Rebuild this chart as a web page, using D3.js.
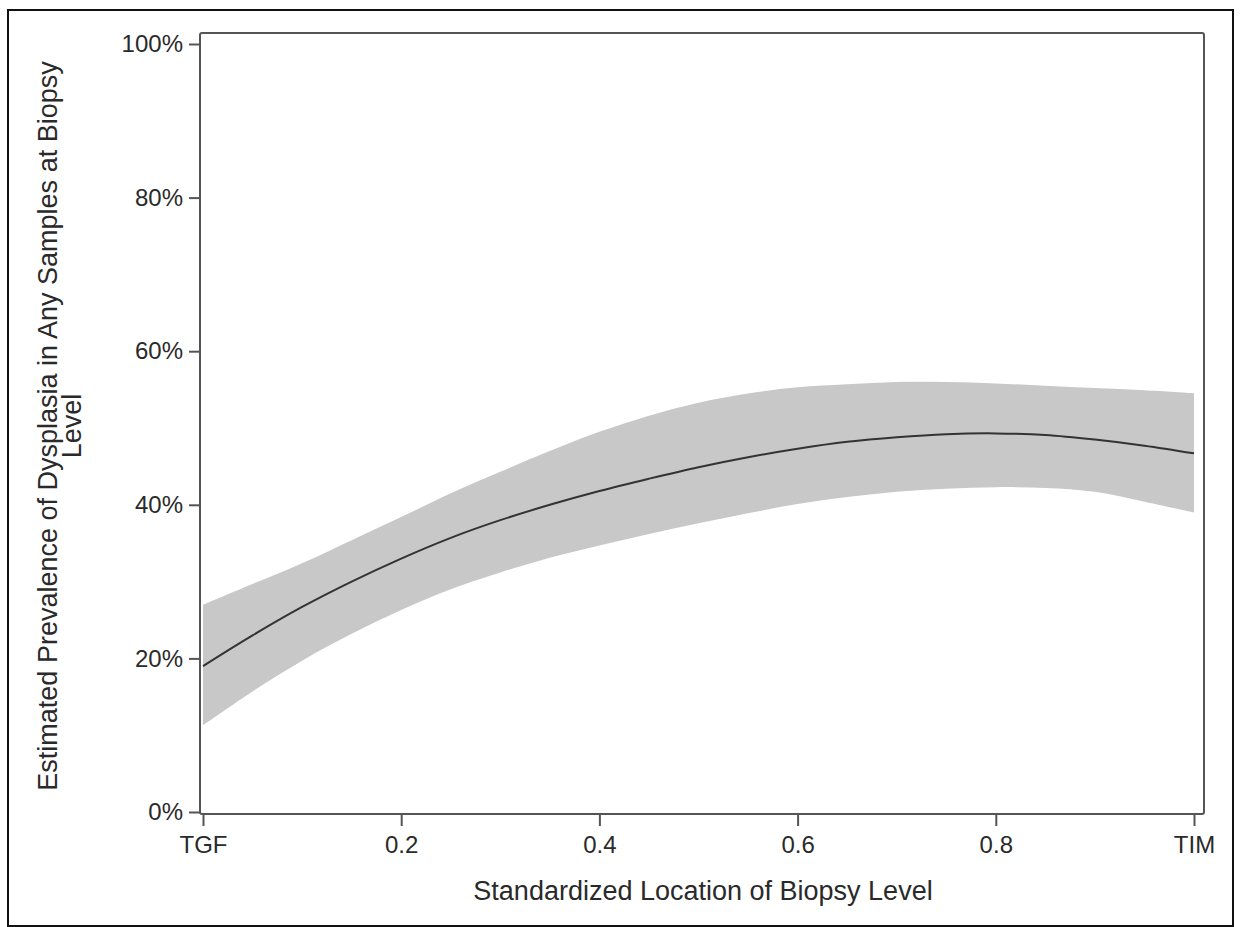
<!DOCTYPE html>
<html>
<head>
<meta charset="utf-8">
<script src="https://cdn.jsdelivr.net/npm/d3@7"></script>
<style>
  body{margin:0;background:#fff;}
  svg{display:block;font-family:"Liberation Sans",Arial,sans-serif;}
  .tick_lbl{font-size:24px;fill:#2a2a2a;}
  .axis_title{font-size:27px;fill:#2a2a2a;}
</style>
</head>
<body>
<svg></svg>
<script>
// standardized location (TGF = 0, TIM = 1)
let loc = [0,0.05,0.1,0.15,0.2,0.25,0.3,0.35,0.4,0.45,0.5,0.55,0.6,0.65,0.7,0.75,0.8,0.85,0.9,0.95,1];
// estimated prevalence (%)
let est   = [19.0,23.0,26.7,30.0,33.0,35.7,38.0,40.0,41.8,43.4,44.9,46.2,47.3,48.2,48.8,49.2,49.3,49.1,48.5,47.7,46.7];
// confidence band (%)
let upper = [27.0,29.7,32.4,35.4,38.4,41.5,44.3,47.0,49.5,51.6,53.3,54.5,55.3,55.7,56.0,56.0,55.8,55.5,55.2,54.9,54.5];
let lower = [11.3,15.7,19.7,23.2,26.3,29.0,31.2,33.1,34.7,36.2,37.6,38.9,40.1,41.0,41.7,42.1,42.3,42.2,41.7,40.4,39.0];
// ticks
let x_ticks = [0,0.2,0.4,0.6,0.8,1];
let x_tick_lbl = ['TGF','0.2','0.4','0.6','0.8','TIM'];
let y_ticks = [0,20,40,60,80,100];

let W = 1240, H = 927;
let svg = d3.select("svg").attr("width",W).attr("height",H);

let x_scale = d3.scaleLinear().domain([0,1]).range([203,1194]);
let y_scale = d3.scaleLinear().domain([0,100]).range([812,44]);

let rows = loc.map((d,i)=>({x:d, y:est[i], hi:upper[i], lo:lower[i]}));

// outer frame
svg.append("rect").attr("x",8).attr("y",10).attr("width",1225).attr("height",916)
  .attr("fill","none").attr("stroke","#111").attr("stroke-width",2);

// band
let band = d3.area().curve(d3.curveCatmullRom)
  .x(d=>x_scale(d.x)).y0(d=>y_scale(d.lo)).y1(d=>y_scale(d.hi));
svg.append("path").datum(rows).attr("d",band).attr("fill","#c8c8c8");

// estimate line
let line = d3.line().curve(d3.curveCatmullRom)
  .x(d=>x_scale(d.x)).y(d=>y_scale(d.y));
svg.append("path").datum(rows).attr("d",line)
  .attr("fill","none").attr("stroke","#333").attr("stroke-width",2);

// plot frame
svg.append("rect").attr("x",200).attr("y",33).attr("width",1004).attr("height",781)
  .attr("rx",2).attr("fill","none").attr("stroke","#555").attr("stroke-width",2);

// y axis
let y_axis = d3.axisLeft(y_scale).tickValues(y_ticks).tickSize(11).tickPadding(6)
  .tickFormat(d=>d+"%");
let gy = svg.append("g").attr("transform","translate(200,0)").call(y_axis);
gy.select(".domain").remove();
gy.selectAll(".tick line").attr("stroke","#555").attr("stroke-width",2);
gy.selectAll(".tick text").attr("class","tick_lbl").attr("font-size",null).attr("font-family",null);

// x axis
let x_axis = d3.axisBottom(x_scale).tickValues(x_ticks).tickSize(12).tickPadding(10)
  .tickFormat((d,i)=>x_tick_lbl[i]);
let gx = svg.append("g").attr("transform","translate(0,814)").call(x_axis);
gx.select(".domain").remove();
gx.selectAll(".tick line").attr("stroke","#555").attr("stroke-width",2);
gx.selectAll(".tick text").attr("class","tick_lbl").attr("font-size",null).attr("font-family",null);

// titles
svg.append("text").attr("class","axis_title").attr("x",703).attr("y",900)
  .attr("text-anchor","middle").text("Standardized Location of Biopsy Level");
let yt = svg.append("text").attr("class","axis_title").attr("text-anchor","middle")
  .attr("transform","translate(57,426) rotate(-90)");
yt.append("tspan").attr("x",0).attr("y",0).text("Estimated Prevalence of Dysplasia in Any Samples at Biopsy");
yt.append("tspan").attr("x",0).attr("y",24).text("Level");
</script>
</body>
</html>
